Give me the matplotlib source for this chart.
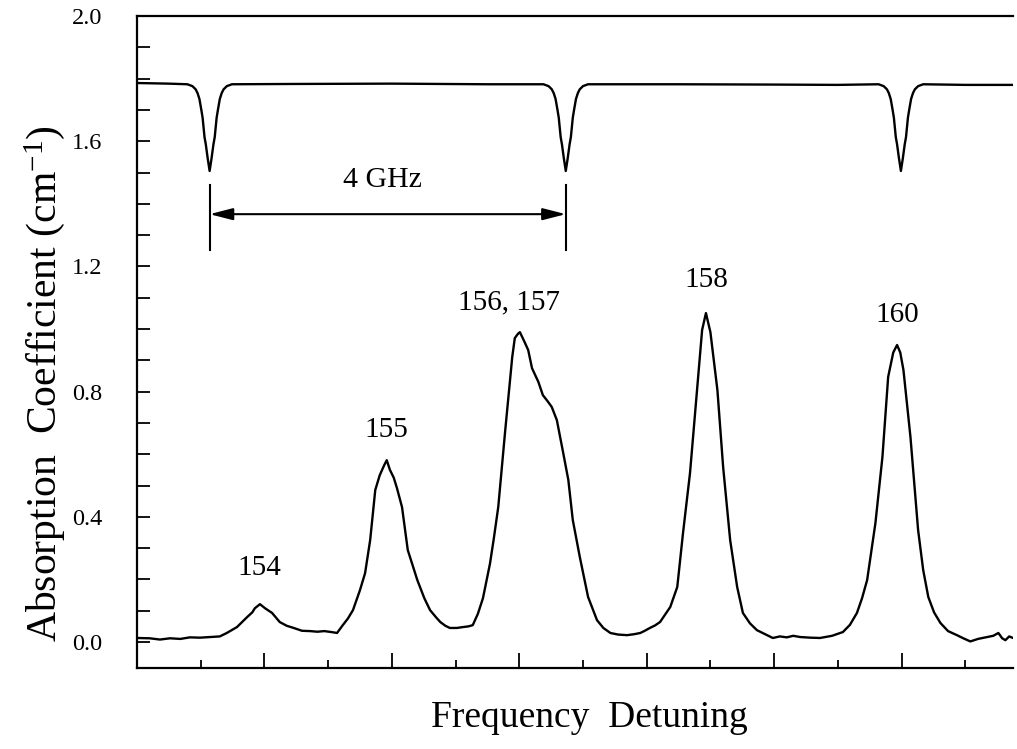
import numpy as np
import matplotlib
matplotlib.use("Agg")
import matplotlib.pyplot as plt

plt.rcParams["font.family"] = ["Liberation Serif", "DejaVu Serif"]
plt.rcParams["mathtext.fontset"] = "custom"
plt.rcParams["mathtext.rm"] = "Liberation Serif"
plt.rcParams["mathtext.default"] = "rm"

# ── absorption spectrum (x in tick units) ──
abs_x = [0.00, 0.20, 0.36, 0.52, 0.68, 0.83, 0.99, 1.15, 1.30, 1.41, 1.57, 1.73, 1.81, 1.85,
         1.93, 2.01, 2.12, 2.24, 2.35, 2.46, 2.59, 2.72, 2.83, 2.94, 3.05, 3.14, 3.23, 3.31,
         3.39, 3.50, 3.58, 3.66, 3.74, 3.81, 3.88, 3.92, 3.97, 4.03, 4.08, 4.16, 4.25, 4.40,
         4.51, 4.60, 4.69, 4.76, 4.84, 4.91, 5.02, 5.12, 5.20, 5.27, 5.35, 5.43, 5.54, 5.60,
         5.67, 5.78, 5.89, 5.93, 5.98, 6.01, 6.08, 6.14, 6.20, 6.30, 6.37, 6.45, 6.51, 6.59,
         6.69, 6.77, 6.84, 6.95, 7.08, 7.22, 7.32, 7.43, 7.55, 7.69, 7.80, 7.90, 7.97, 8.05,
         8.13, 8.21, 8.37, 8.48, 8.57, 8.68, 8.79, 8.87, 8.93, 9.00, 9.11, 9.20, 9.31, 9.42,
         9.51, 9.62, 9.73, 9.86, 9.98, 10.09, 10.20, 10.30, 10.41, 10.57, 10.72, 10.91, 11.08,
         11.19, 11.30, 11.38, 11.46, 11.59, 11.70, 11.79, 11.87, 11.93, 11.98, 12.03, 12.14,
         12.26, 12.34, 12.42, 12.51, 12.61, 12.73, 12.87, 12.97, 13.08, 13.20, 13.34, 13.44,
         13.52, 13.58, 13.63, 13.69, 13.75]
abs_y = [0.013, 0.012, 0.008, 0.012, 0.010, 0.015, 0.014, 0.016, 0.018, 0.029, 0.048, 0.080, 0.095, 0.108,
         0.121, 0.108, 0.093, 0.064, 0.052, 0.045, 0.036, 0.035, 0.033, 0.035, 0.032, 0.029, 0.054, 0.075,
         0.102, 0.166, 0.220, 0.326, 0.486, 0.533, 0.565, 0.581, 0.550, 0.525, 0.492, 0.431, 0.294, 0.198,
         0.140, 0.102, 0.080, 0.064, 0.052, 0.045, 0.045, 0.048, 0.050, 0.054, 0.090, 0.140, 0.250, 0.330,
         0.431, 0.677, 0.911, 0.971, 0.985, 0.990, 0.960, 0.933, 0.875, 0.831, 0.789, 0.768, 0.751, 0.709,
         0.604, 0.518, 0.390, 0.272, 0.144, 0.070, 0.045, 0.029, 0.024, 0.022, 0.025, 0.029, 0.036, 0.045,
         0.053, 0.064, 0.112, 0.176, 0.348, 0.540, 0.805, 0.997, 1.051, 0.990, 0.805, 0.559, 0.326, 0.176,
         0.093, 0.060, 0.038, 0.025, 0.013, 0.018, 0.015, 0.020, 0.016, 0.014, 0.013, 0.020, 0.032,
         0.055, 0.093, 0.140, 0.198, 0.380, 0.591, 0.847, 0.925, 0.949, 0.925, 0.869, 0.655,
         0.358, 0.230, 0.144, 0.095, 0.061, 0.035, 0.022, 0.012, 0.002, 0.010, 0.016, 0.020,
         0.029, 0.012, 0.006, 0.018, 0.013]

# ── reference etalon trace: flat level plus three identical dips ──
flat_x = [0.00, 0.50, 2.50, 4.00, 5.50, 8.50, 10.00, 11.00, 13.00, 13.75]
flat_y = [1.786, 1.784, 1.783, 1.784, 1.782, 1.782, 1.781, 1.780, 1.780, 1.780]
dip1_x = [0.79, 0.87, 0.92, 0.95, 0.98, 1.01, 1.03, 1.06, 1.08, 1.11, 1.14,
          1.17, 1.20, 1.22, 1.25, 1.27, 1.30, 1.33, 1.36, 1.41, 1.49]
dip2_x = [6.38, 6.46, 6.51, 6.54, 6.57, 6.60, 6.62, 6.65, 6.67, 6.70, 6.73,
          6.76, 6.79, 6.81, 6.84, 6.86, 6.89, 6.92, 6.95, 7.00, 7.08]
dip3_x = [11.64, 11.72, 11.77, 11.80, 11.83, 11.86, 11.88, 11.91, 11.93, 11.96, 11.99,
          12.02, 12.05, 12.07, 12.10, 12.12, 12.15, 12.18, 12.21, 12.26, 12.34]
dip_y = [1.782, 1.776, 1.766, 1.754, 1.735, 1.700, 1.675, 1.613, 1.590, 1.545, 1.505,
         1.545, 1.590, 1.613, 1.675, 1.700, 1.735, 1.754, 1.766, 1.776, 1.782]

peak_labels = ["154", "155", "156, 157", "158", "160"]
peak_x = [1.92, 3.91, 5.84, 8.93, 11.93]
peak_y = [0.236, 0.677, 1.086, 1.157, 1.045]

fsr_start, fsr_end, fsr_level = 1.14, 6.73, 1.367
fsr_label = "4 GHz"

# merge flat level and dips into one sorted trace
ref_pts = sorted(list(zip(flat_x, flat_y)) + list(zip(dip1_x, dip_y))
                 + list(zip(dip2_x, dip_y)) + list(zip(dip3_x, dip_y)))
ref_x = [p[0] for p in ref_pts]
ref_y = [p[1] for p in ref_pts]

fig = plt.figure(figsize=(10.17, 7.49), dpi=100)
ax = fig.add_axes([0.1347, 0.1081, 0.8614, 0.8705])

ax.plot(abs_x, abs_y, color="black", lw=1.7, solid_joinstyle="round")
ax.plot(ref_x, ref_y, color="black", lw=1.7, solid_joinstyle="round")

for lab, px, py in zip(peak_labels, peak_x, peak_y):
    ax.text(px, py, lab, fontsize=21, ha="center", va="center")

# FSR marker
for xv in (fsr_start, fsr_end):
    ax.plot([xv, xv], [1.252, 1.46], color="black", lw=1.5)
ax.annotate("", xy=(fsr_end, fsr_level), xytext=(fsr_start, fsr_level),
            arrowprops=dict(arrowstyle="<|-|>,head_length=0.7,head_width=0.18",
                            mutation_scale=20, color="black", lw=1.5,
                            shrinkA=0, shrinkB=0))
ax.text(3.85, 1.476, fsr_label, fontsize=21.5, ha="center", va="center")

ax.set_xlim(0, 13.75)
ax.set_ylim(-0.083, 2.0)
ax.set_xticks(np.arange(0, 13, 2))
ax.set_xticks(np.arange(1, 14, 2), minor=True)
ax.set_xticklabels([])
ax.set_yticks(np.arange(0, 2.01, 0.4))
ax.set_yticks(np.arange(0, 2.01, 0.1), minor=True)
ax.set_yticklabels([f"{v:.1f}" for v in np.arange(0, 2.01, 0.4)], fontsize=17.5)
ax.tick_params(axis="y", which="both", direction="in", length=9.5, width=1.3, pad=25)
ax.tick_params(axis="x", which="major", direction="in", length=11, width=1.3)
ax.tick_params(axis="x", which="minor", direction="in", length=6, width=1.3)
ax.spines["right"].set_visible(False)
for s in ("left", "top", "bottom"):
    ax.spines[s].set_linewidth(1.6)

fig.text(45 / 1017, 1 - 384 / 749, "Absorption  Coefficient (cm$^{-1}$)",
         rotation=90, fontsize=30, ha="center", va="center")
fig.text(589 / 1017, 1 - 718 / 749, "Frequency  Detuning", fontsize=27, ha="center", va="center")

fig.savefig("out.png", dpi=100)
